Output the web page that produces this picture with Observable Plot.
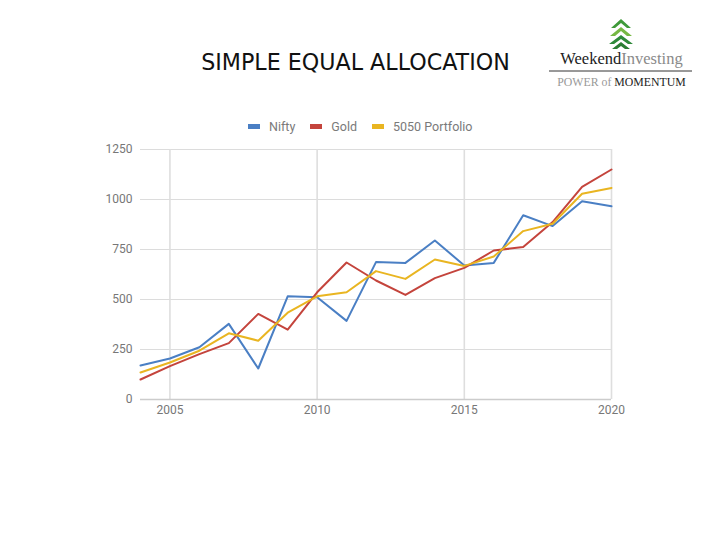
<!DOCTYPE html>
<html>
<head>
<meta charset="utf-8">
<script src="https://cdn.jsdelivr.net/npm/d3@7"></script>
<script src="https://cdn.jsdelivr.net/npm/@observablehq/plot@0.6"></script>
<style>
  html, body { margin: 0; padding: 0; background: #fff; }
  #page { position: relative; width: 720px; height: 540px; overflow: hidden; background: #fff; }
  #title { position: absolute; left: 0; width: 711px; top: 49px; text-align: center; font-family: "DejaVu Sans", sans-serif; font-size: 22.2px; color: #111; letter-spacing: 0px; }
  #legend { position: absolute; left: 248px; top: 119px; font-family: Roboto, "Noto Sans", sans-serif; font-size: 12.5px; color: #7a7a7a; display: flex; gap: 15px; }
  #legend span.item { display: flex; align-items: center; gap: 9px; }
  #legend span.sw { display: inline-block; width: 12px; height: 5px; }
  #chart { position: absolute; left: 0; top: 140px; }
  #logo { position: absolute; left: 548px; top: 16px; width: 146px; height: 76px; }
</style>
</head>
<body>
<div id="page">
  <div id="title">SIMPLE EQUAL ALLOCATION</div>
  <svg id="logo" viewBox="0 0 146 76" width="146" height="76">
    <polygon points="73,3 83,12 79,12 73,7 67,12 63,12" fill="#3f9a3a"/>
    <polygon points="73,11 84,20 79,20 73,15 67,20 62,20" fill="#76b843"/>
    <polygon points="73,19 85,28 80,28 73,23 66,28 61,28" fill="#2f8a3a"/>
    <polygon points="73,26 82,33 77,33 73,30 69,33 64,33" fill="#2b7d33"/>
    <text x="73.5" y="47.5" text-anchor="middle" font-family="Liberation Serif, serif" font-size="16.5" fill="#222">Weekend<tspan fill="#8a8a8a">Investing</tspan></text>
    <line x1="1" y1="55" x2="144" y2="55" stroke="#333" stroke-width="1"/>
    <text x="73.5" y="70" text-anchor="middle" font-family="Liberation Serif, serif" font-size="11.8" fill="#999">POWER of <tspan fill="#222">MOMENTUM</tspan></text>
  </svg>
  <div id="legend"></div>
  <div id="chart"></div>
</div>
<script>
const years = [2004, 2005, 2006, 2007, 2008, 2009, 2010, 2011, 2012, 2013, 2014, 2015, 2016, 2017, 2018, 2019, 2020];
const nifty = [170, 205, 261, 378, 155, 516, 511, 393, 687, 683, 795, 670, 683, 921, 867, 991, 966];
const gold = [100, 167, 227, 282, 428, 349, 536, 685, 595, 523, 607, 658, 745, 762, 887, 1063, 1150];
const portfolio = [135, 185, 244, 331, 294, 434, 516, 536, 642, 603, 700, 668, 715, 842, 879, 1029, 1058];
const seriesNames = ["Nifty", "Gold", "5050 Portfolio"];
const seriesColors = ["#4a7fc4", "#c4443c", "#e9b521"];
const yTicks = [0, 250, 500, 750, 1000, 1250];
const xTicks = [2005, 2010, 2015, 2020];

const seriesValues = [nifty, gold, portfolio];
const data = [];
seriesNames.forEach((name, i) => {
  years.forEach((yr, j) => data.push({series: name, year: yr, value: seriesValues[i][j]}));
});

// legend
const legend = document.getElementById("legend");
seriesNames.forEach((name, i) => {
  const item = document.createElement("span");
  item.className = "item";
  const sw = document.createElement("span");
  sw.className = "sw";
  sw.style.background = seriesColors[i];
  item.appendChild(sw);
  const t = document.createElement("span");
  t.textContent = name;
  item.appendChild(t);
  legend.appendChild(item);
});

const fmt = d => String(d);
const chart = Plot.plot({
  width: 720,
  height: 290,
  marginLeft: 140,
  marginRight: 109,
  marginTop: 9,
  marginBottom: 31,
  style: { fontFamily: "Roboto, 'Noto Sans', sans-serif", fontSize: "12px", color: "#777", background: "transparent" },
  x: { domain: [2004, 2020], label: null },
  y: { domain: [0, 1250], label: null },
  color: { domain: seriesNames, range: seriesColors },
  marks: [
    Plot.ruleY(yTicks, { stroke: "#dcdcdc", strokeWidth: 1 }),
    Plot.ruleX(xTicks, { stroke: "#dedede", strokeWidth: 1.6 }),
    Plot.ruleY([0], { stroke: "#cccccc", strokeWidth: 1.5 }),
    Plot.axisX({ ticks: xTicks, tickFormat: fmt, tickSize: 0, tickPadding: 6, fill: "#777" }),
    Plot.axisY({ ticks: yTicks, tickFormat: fmt, tickSize: 0, tickPadding: 8, fill: "#777" }),
    Plot.line(data, { x: "year", y: "value", z: "series", stroke: "series", strokeWidth: 2, curve: "linear" })
  ]
});
document.getElementById("chart").appendChild(chart);
</script>
</body>
</html>
